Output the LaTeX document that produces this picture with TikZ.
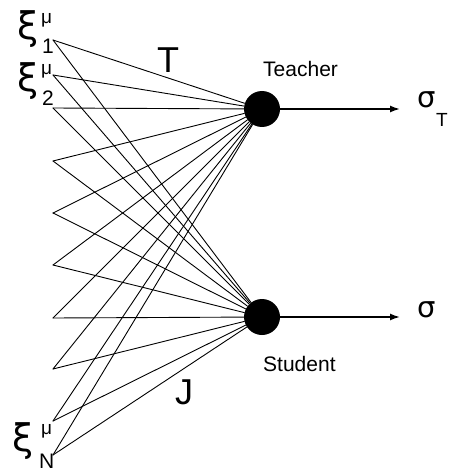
\documentclass[tikz,border=0pt]{standalone}
\usepackage{fontspec}
\setmainfont{Liberation Sans}
\newfontfamily\greeksans{DejaVu Sans}
\usetikzlibrary{arrows.meta}
\begin{document}
\begin{tikzpicture}[x=1pt,y=-1pt,line cap=round,line join=round,
  unit/.style={circle,fill=black,minimum size=36pt,inner sep=0pt},
  wire/.style={line width=0.9pt},
  outwire/.style={line width=1.6pt,-{Latex[length=10pt,width=7pt]}},
  lbl/.style={inner sep=0pt,anchor=base west},
  big/.style={font=\fontsize{36}{36}\selectfont},
  mid/.style={font=\fontsize{21}{21}\selectfont},
  small/.style={font=\fontsize{19}{19}\selectfont},
  xi/.style={font=\greeksans\fontsize{38}{38}\selectfont},
  sig/.style={font=\greeksans\fontsize{29}{29}\selectfont}]
  \useasboundingbox (0,0) rectangle (453,473);
  \node[unit] (teacher) at (262,109) {};
  \node[unit] (student) at (262,317) {};
  \foreach \y [count=\i] in {40,75,108,161,213,265,318,369,421,455}{
    \coordinate (in\i) at (53,\y);
    \draw[wire] (in\i) -- (teacher);
    \draw[wire] (in\i) -- (student);
  }
  \coordinate (yT) at (400,109);
  \coordinate (yS) at (400,317);
  \draw[outwire] (teacher) -- (yT);
  \draw[outwire] (student) -- (yS);
  \node[lbl,sig] (sigT) at (417,108) {σ};
  \node[lbl,small] (sigTsub) at (436,127) {T};
  \node[lbl,sig] (sig) at (417,317) {σ};
  \node[lbl,mid] (tname) at (263,77) {Teacher};
  \node[lbl,mid] (sname) at (263,371) {Student};
  \node[lbl,big] (Tw) at (157,73) {T};
  \node[lbl,big] (Jw) at (175,404) {J};
  \node[lbl,xi] (xi1) at (17,40) {ξ};
  \node[lbl,small] (mu1) at (41,24) {μ};
  \node[lbl,mid] (sub1) at (42,54) {1};
  \node[lbl,xi] (xi2) at (17,92) {ξ};
  \node[lbl,small] (mu2) at (41,75) {μ};
  \node[lbl,mid] (sub2) at (42,106) {2};
  \node[lbl,xi] (xiN) at (12,451) {ξ};
  \node[lbl,small] (muN) at (41,434) {μ};
  \node[lbl,mid] (subN) at (39,468) {N};
\end{tikzpicture}
\end{document}
